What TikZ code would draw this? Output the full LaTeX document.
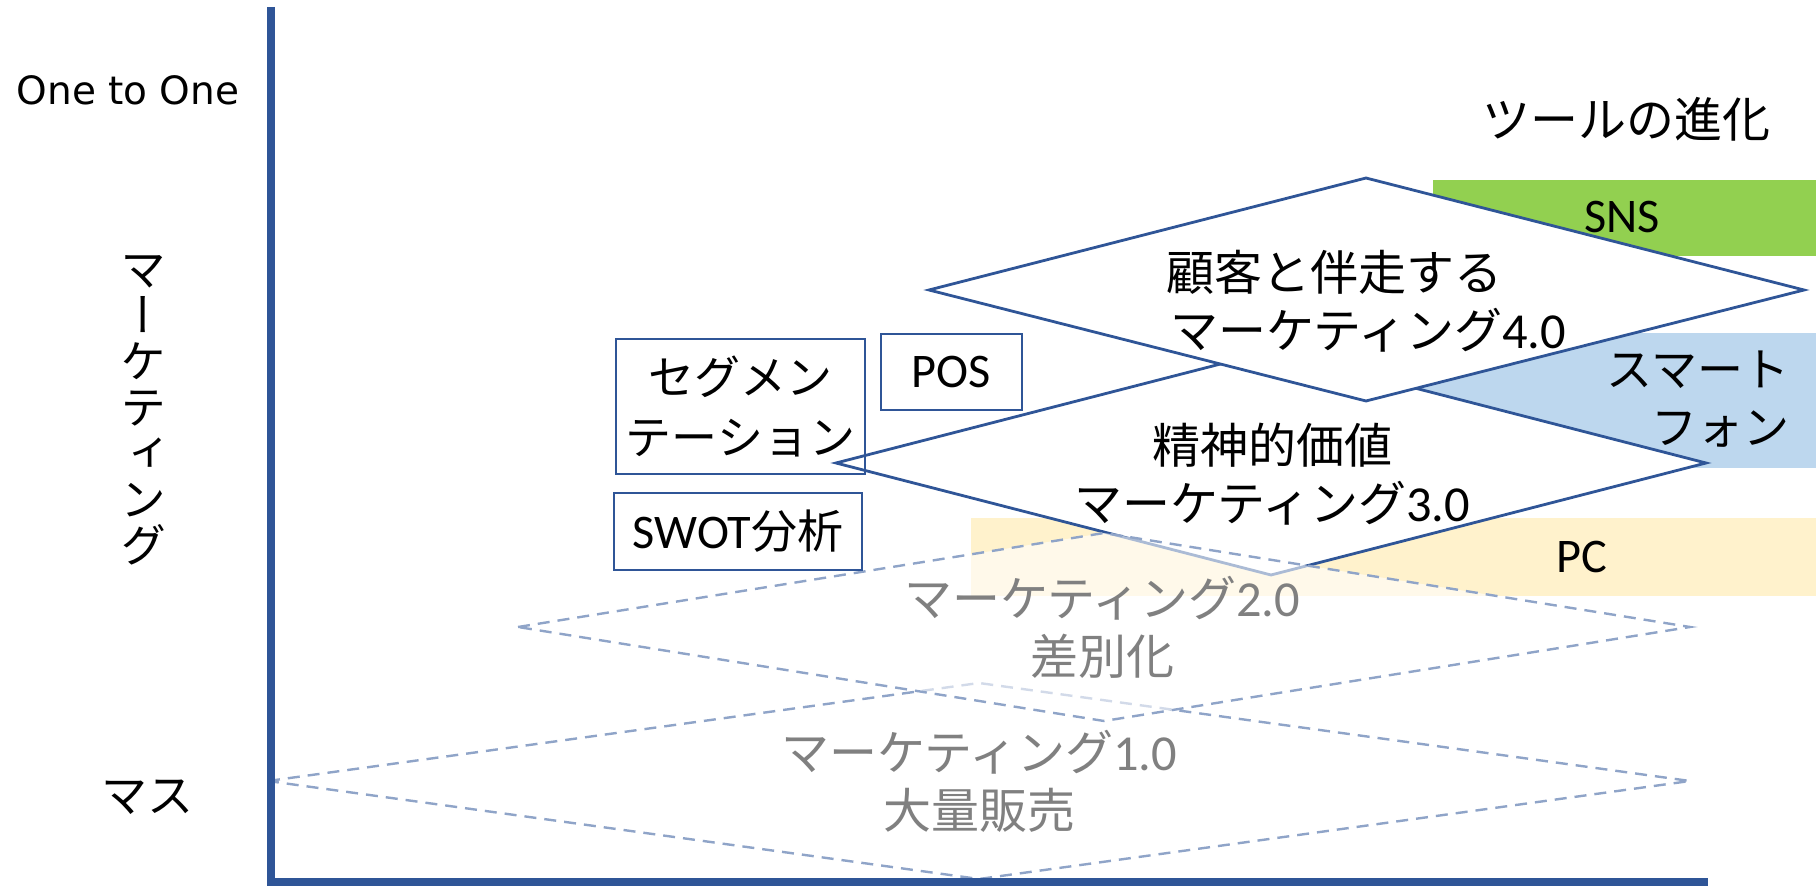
\documentclass[tikz,border=0pt]{standalone}
\usepackage{fontspec}
\setmainfont{Noto Sans CJK JP}
\newfontfamily\lat[Scale=1.05]{Carlito}
\newfontfamily\jpv[RawFeature=+vert]{Noto Sans CJK JP}
\newfontfamily\wide{DejaVu Sans}
\definecolor{axisblue}{HTML}{2F5597}
\definecolor{dashblue}{HTML}{8FA4C8}
\definecolor{pcyellow}{HTML}{FFF2CC}
\definecolor{spblue}{HTML}{BDD7EE}
\definecolor{snsgreen}{HTML}{92D050}
\definecolor{txtgray}{HTML}{808080}
\begin{document}
\begin{tikzpicture}[x=0.5pt,y=-0.5pt,
  solidd/.style={draw=axisblue, line width=1.4pt, fill=white, line join=miter},
  dashd/.style={draw=dashblue, line width=1.2pt, dash pattern=on 6pt off 4pt, fill=white, fill opacity=0.6},
  lbl/.style={font=\fontsize{23}{29}\selectfont, align=center, inner sep=0pt},
  dlbl/.style={lbl, font=\fontsize{24}{29}\selectfont},
  glbl/.style={dlbl, text=txtgray},
  box/.style={draw=axisblue, line width=1pt, lbl, inner sep=0pt}
]
\useasboundingbox (0,0) rectangle (1816,887);

% tool bars
\fill[snsgreen] (1433,180) rectangle (1816,256);
\fill[spblue] (1400,333) rectangle (1816,468);
\fill[pcyellow] (971,518) rectangle (1816,596);

% diamonds
\draw[dashd] (268,781) -- (979,683) -- (1690,781) -- (979,879) -- cycle;
\draw[solidd] (836,463) -- (1271,351) -- (1706,463) -- (1271,575) -- cycle;
\draw[dashd] (518,627) -- (1104,533) -- (1690,627) -- (1104,721) -- cycle;
\draw[solidd] (929,290) -- (1366,178) -- (1804,290) -- (1366,401) -- cycle;

% diamond labels
\node[dlbl] (t4) at (1368,301) {顧客と伴走する\hspace*{34pt}\\マーケティング{\lat 4.0}};
\node[dlbl] (t3) at (1272,474) {精神的価値\\マーケティング{\lat 3.0}};
\node[glbl] (t2) at (1102,627) {マーケティング{\lat 2.0}\\差別化};
\node[glbl] (t1) at (979,781) {マーケティング{\lat 1.0}\\大量販売};

% boxes
\node[box, minimum width=124.5pt, minimum height=67.5pt, font=\fontsize{23}{30}\selectfont] (seg) at (740.5,406.5) {セグメン\\テーション};
\node[box, minimum width=70.5pt, minimum height=38pt] (pos) at (951.5,372) {\lat POS};
\node[box, minimum width=124pt, minimum height=38.5pt] (swot) at (738,531.5) {{\lat SWOT}分析};

% bar labels
\node[lbl] (sns) at (1622,217) {\lat SNS};
\node[lbl, align=right, anchor=east] (sp) at (1790,399) {スマート\\フォン};
\node[lbl] (pc) at (1582,557) {\lat PC};
\node[dlbl] (tool) at (1626,119) {ツールの進化};

% axis labels
\node[lbl, font=\wide\fontsize{19.5}{24}\selectfont] (one) at (128,90) {One to One};
\node[lbl, font=\jpv\fontsize{23}{23}\selectfont] (mk) at (143,410) {マ\\ー\\ケ\\テ\\ィ\\ン\\グ};
\node[lbl] (mass) at (147,797) {マス};

% axes
\draw[axisblue, line width=4pt] (271,7) -- (271,882) -- (1708,882);
\end{tikzpicture}
\end{document}
